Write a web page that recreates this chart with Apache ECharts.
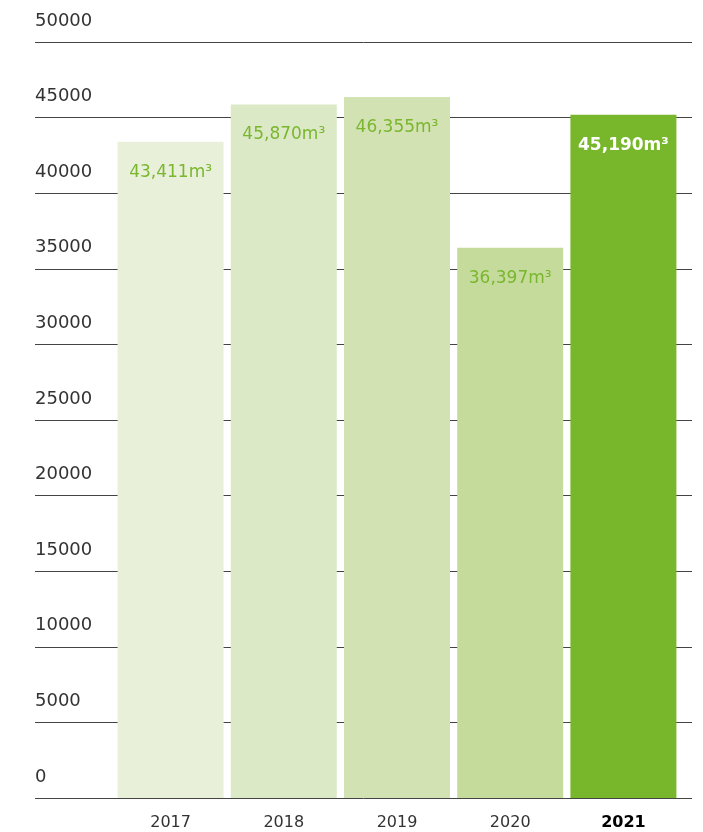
<!DOCTYPE html>
<html><head><meta charset='utf-8'>
<script src='https://cdn.jsdelivr.net/npm/echarts@6/dist/echarts.min.js'></script>
<style>html,body{margin:0;padding:0;background:#fff}#main{width:703px;height:832px}</style>
</head><body>
<div id='main'></div>
<script>
// water use per year, m3
var years = ['2017', '2018', '2019', '2020', '2021'];
var volumes = [43411, 45870, 46355, 36397, 45190];
var barColors = ['#e8f0da', '#dce9c6', '#d2e2b2', '#c5db9c', '#78b72b'];
var yTicks = [0, 50000, 5000]; // min, max, step

var font = '"DejaVu Sans", sans-serif';

var chart = echarts.init(document.getElementById('main'));

var bars = volumes.map(function (v, i) {
  var last = i == volumes.length - 1;
  return {
    value: v,
    itemStyle: { color: barColors[i] },
    label: {
      color: last ? '#ffffff' : '#7ab62e',
      fontWeight: last ? 'bold' : 'normal'
    }
  };
});

chart.setOption({
  animation: false,
  grid: [
    // grid for the horizontal rules and y labels
    { left: 35, right: 11, top: 42, bottom: 34 },
    // grid for the bars
    { left: 114, right: 23, top: 42, bottom: 34 }
  ],
  xAxis: [
    { gridIndex: 0, type: 'category', data: years, show: false },
    {
      gridIndex: 1, type: 'category', data: years,
      axisLine: { show: false }, axisTick: { show: false },
      axisLabel: {
        margin: 17, fontFamily: font, fontSize: 16, color: '#333',
        formatter: function (v) { return v == years[years.length - 1] ? '{b|' + v + '}' : v; },
        rich: { b: { fontWeight: 'bold', color: '#000', fontSize: 16, fontFamily: font } }
      }
    }
  ],
  yAxis: [
    {
      gridIndex: 0, type: 'value', min: yTicks[0], max: yTicks[1], interval: yTicks[2],
      axisLine: { show: false }, axisTick: { show: false },
      splitLine: { lineStyle: { color: '#444', width: 1 } },
      axisLabel: {
        inside: true, margin: 0, align: 'left', verticalAlign: 'bottom',
        padding: [0, 0, 12, 0],
        fontFamily: font, fontSize: 18, color: '#333',
        formatter: function (v) { return String(v); }
      }
    },
    { gridIndex: 1, type: 'value', min: yTicks[0], max: yTicks[1], show: false }
  ],
  series: [{
    type: 'bar',
    xAxisIndex: 1, yAxisIndex: 1,
    data: bars,
    barWidth: 106,
    label: {
      show: true, position: 'insideTop', distance: 22,
      fontFamily: font, fontSize: 17,
      formatter: function (p) { return p.value.toLocaleString('en-US') + 'm³'; }
    }
  }]
});
</script>
</body></html>
